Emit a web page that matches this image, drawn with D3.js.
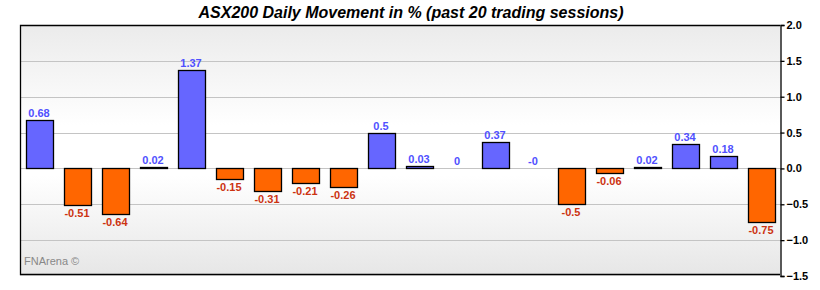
<!DOCTYPE html>
<html>
<head>
<meta charset="utf-8">
<script src="https://cdn.jsdelivr.net/npm/d3@7"></script>
<style>
  body { margin: 0; background: #fff; }
  svg { font-family: Arial, "Liberation Sans", sans-serif; }
</style>
</head>
<body>
<svg id="chart" width="820" height="290"></svg>
<script>
// 20 sesiones, valores en %
const sessions = d3.range(1, 21);
const moves = [0.68, -0.51, -0.64, 0.02, 1.37, -0.15, -0.31, -0.21, -0.26, 0.5,
               0.03, 0, 0.37, -0, -0.5, -0.06, 0.02, 0.34, 0.18, -0.75];
const moveLabels = ["0.68", "-0.51", "-0.64", "0.02", "1.37", "-0.15", "-0.31", "-0.21", "-0.26", "0.5",
                    "0.03", "0", "0.37", "-0", "-0.5", "-0.06", "0.02", "0.34", "0.18", "-0.75"];
const yTicks = [2.0, 1.5, 1.0, 0.5, 0.0, -0.5, -1.0, -1.5];

const svg = d3.select("#chart");
const mLeft = 20, mRight = 780, mTop = 25, mBottom = 276;

const x = d3.scaleBand()
  .domain(sessions)
  .range([mLeft, mRight])
  .paddingInner(0.29)
  .paddingOuter(0.145);

const y = d3.scaleLinear()
  .domain([-1.5, 2.0])
  .range([mBottom, mTop]);

// fondo degradado
const grad = svg.append("defs").append("linearGradient")
  .attr("id", "bg").attr("x1", 0).attr("y1", 0).attr("x2", 0).attr("y2", 1);
grad.append("stop").attr("offset", "0%").attr("stop-color", "#ebebeb");
grad.append("stop").attr("offset", "40%").attr("stop-color", "#ffffff");
grad.append("stop").attr("offset", "60%").attr("stop-color", "#ffffff");
grad.append("stop").attr("offset", "100%").attr("stop-color", "#e6e6e6");

svg.append("rect")
  .attr("x", mLeft).attr("y", mTop)
  .attr("width", mRight - mLeft).attr("height", mBottom - mTop)
  .attr("fill", "url(#bg)");

// grilla
svg.append("g")
  .selectAll("line")
  .data(yTicks.filter(t => t > -1.5 && t < 2.0))
  .join("line")
  .attr("x1", mLeft).attr("x2", mRight)
  .attr("y1", d => Math.round(y(d)) + 0.5).attr("y2", d => Math.round(y(d)) + 0.5)
  .attr("stroke", "#c4c4c4");

// barras
svg.append("g")
  .selectAll("rect")
  .data(moves)
  .join("rect")
  .attr("x", (d, i) => Math.round(x(sessions[i])) + 0.5)
  .attr("y", d => Math.round(y(Math.max(0, d))) + 0.5)
  .attr("width", Math.round(x.bandwidth()))
  .attr("height", d => Math.abs(Math.round(y(d)) - Math.round(y(0))))
  .attr("fill", d => d < 0 ? "#ff6600" : "#6666ff")
  .attr("stroke", d => d === 0 ? "none" : "#000")
  .attr("stroke-width", 1.3);

// etiquetas
svg.append("g")
  .selectAll("text")
  .data(moves)
  .join("text")
  .attr("x", (d, i) => x(sessions[i]) + x.bandwidth() / 2)
  .attr("y", d => d < 0 ? y(d) + 12 : y(d) - 3)
  .attr("text-anchor", "middle")
  .attr("font-size", 11)
  .attr("font-weight", "bold")
  .attr("fill", d => d < 0 ? "#cc3311" : "#5050ff")
  .text((d, i) => moveLabels[i]);

// marco
svg.append("path")
  .attr("d", `M${mRight},${mTop + 0.5}H${mLeft + 0.5}V${mBottom - 1.5}H${mRight}`)
  .attr("fill", "none").attr("stroke", "#000").attr("stroke-width", 1.3);

// eje derecho
const axis = svg.append("g")
  .attr("transform", `translate(${mRight + 0.5},0)`)
  .call(d3.axisRight(y).tickValues(yTicks).tickFormat(d3.format(".1f")).tickSize(4).tickPadding(2));
axis.selectAll("path, line").attr("stroke", "#000").attr("stroke-width", 1.3);
axis.selectAll("text")
  .attr("font-size", 11).attr("font-weight", "bold").attr("fill", "#000")
  .attr("font-family", "Arial, 'Liberation Sans', sans-serif");

// titulo
svg.append("text")
  .attr("x", 411).attr("y", 18)
  .attr("text-anchor", "middle")
  .attr("font-size", 16)
  .attr("font-weight", "bold")
  .attr("font-style", "italic")
  .text("ASX200 Daily Movement in % (past 20 trading sessions)");

svg.append("text")
  .attr("x", 24).attr("y", 265)
  .attr("font-size", 11)
  .attr("fill", "#888")
  .text("FNArena ©");
</script>
</body>
</html>
